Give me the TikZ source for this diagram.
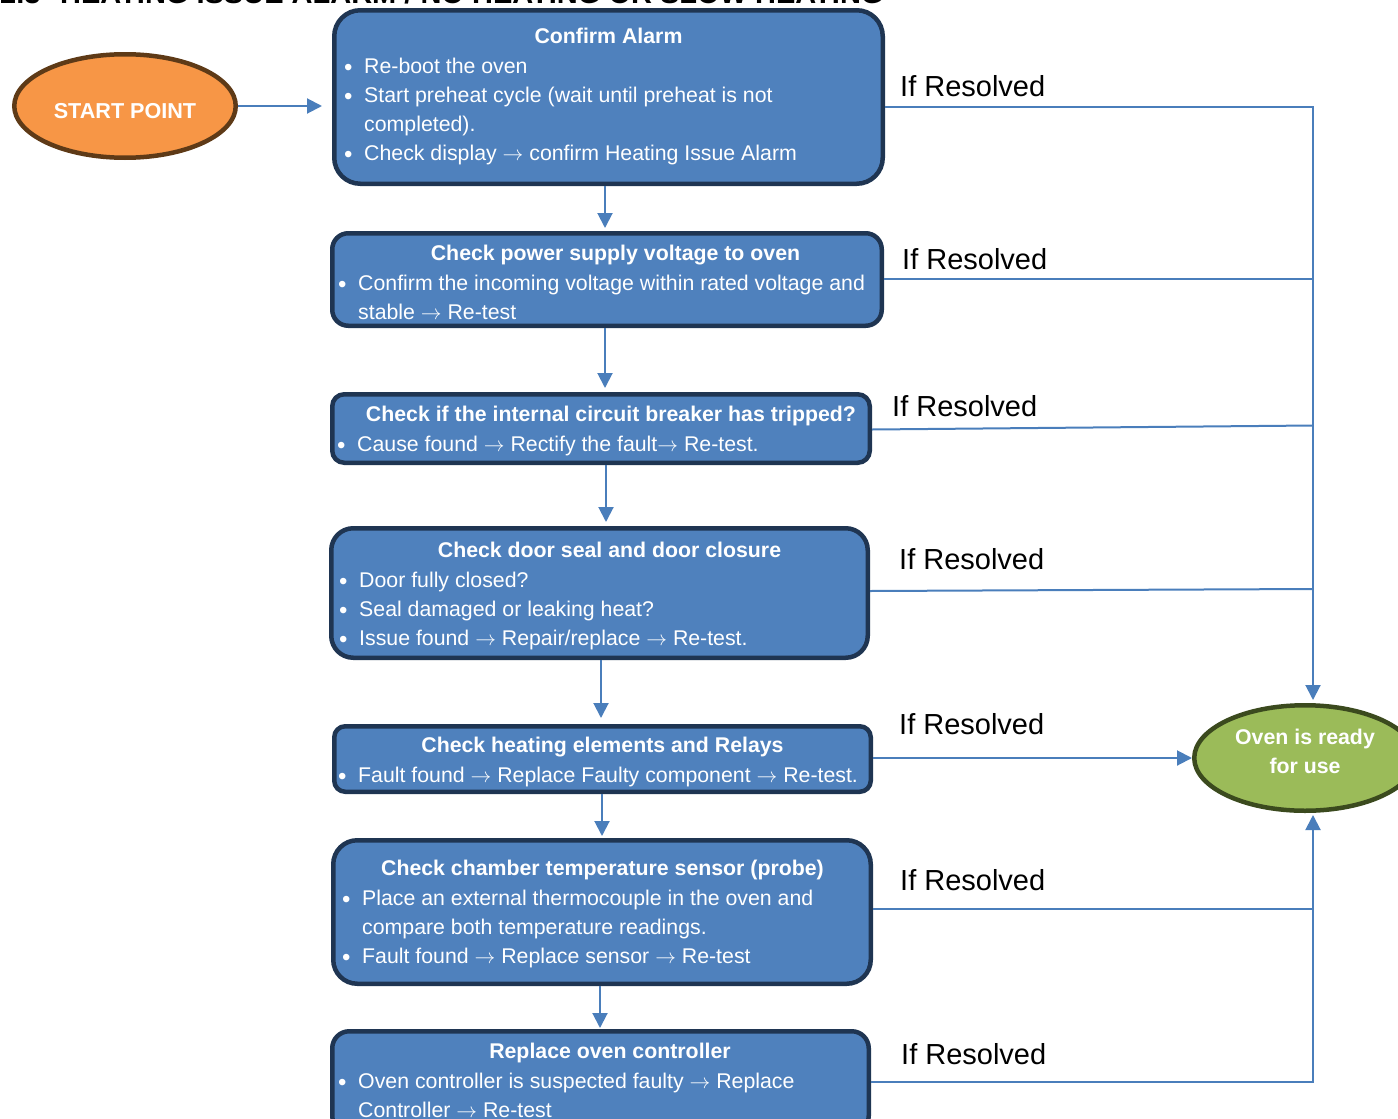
\documentclass[tikz,border=0pt]{standalone}
\usepackage{fontspec}
\setmainfont{Liberation Sans}
\usetikzlibrary{arrows.meta,shapes.geometric,calc}
\definecolor{boxfill}{HTML}{4F81BD}
\definecolor{boxline}{HTML}{1F3552}
\definecolor{arrcol}{HTML}{4A7EBB}
\definecolor{startfill}{HTML}{F79646}
\definecolor{startline}{HTML}{5E3A17}
\definecolor{readyfill}{HTML}{9BBB59}
\definecolor{readyline}{HTML}{3B4A1E}
\newcommand\myb{\makebox[20pt][l]{\raisebox{-2pt}{\fontsize{24}{29}\selectfont •}}}
\newcommand\myi{\hspace*{20pt}}
\newcommand\myarr{$\rightarrow$}
\begin{document}
\begin{tikzpicture}[x=1pt,y=-1pt,
  stepbox/.style={draw=boxline, line width=4.5pt, fill=boxfill, anchor=north west, inner sep=0pt},
  ttl/.style={anchor=base, text=white, font=\fontsize{21.3}{24}\selectfont\bfseries, inner sep=0pt},
  body/.style={anchor=base west, text=white, font=\fontsize{21.3}{29}\selectfont, inner sep=0pt},
  lbl/.style={anchor=base west, font=\fontsize{29}{34}\selectfont, inner sep=0pt},
  conn/.style={draw=arrcol, line width=2pt},
  arr/.style={conn, -{Triangle[length=15pt,width=15pt]}},
  ovalw/.style={text=white, font=\fontsize{21.3}{29}\selectfont\bfseries, inner sep=0pt, align=center},
]
\useasboundingbox (0,0) rectangle (1398,1119);

% clipped heading
\node[anchor=base west, font=\fontsize{29}{34}\selectfont\bfseries, inner sep=0pt] (hnum) at (0,3.5) {2.3};
\node[anchor=base west, font=\fontsize{29}{34}\selectfont\bfseries, inner sep=0pt] (head) at (60,3.5) {HEATING ISSUE ALARM / NO HEATING OR SLOW HEATING};

% boxes
\node[stepbox, rounded corners=26pt, minimum width=548.5pt, minimum height=173.5pt] (b1) at (332,8) {};
\node[stepbox, rounded corners=16pt, minimum width=549.5pt, minimum height=92.5pt] (b2) at (330,231) {};
\node[stepbox, rounded corners=12pt, minimum width=537.5pt, minimum height=68.5pt] (b3) at (330,392) {};
\node[stepbox, rounded corners=22pt, minimum width=536.5pt, minimum height=129.5pt] (b4) at (329,526) {};
\node[stepbox, rounded corners=11pt, minimum width=536.5pt, minimum height=65.5pt] (b5) at (332,724) {};
\node[stepbox, rounded corners=24pt, minimum width=537.5pt, minimum height=143.5pt] (b6) at (331,838) {};
\node[stepbox, rounded corners=17pt, minimum width=536.5pt, minimum height=101.5pt] (b7) at (330,1029) {};

% ovals
\node[ellipse, draw=startline, line width=4.5pt, fill=startfill, minimum width=221.5pt, minimum height=103.5pt] (start) at (125,106) {};
\node[ovalw, font=\fontsize{21.6}{29}\selectfont\bfseries] (startt) at (125,111) {START POINT};
\node[ellipse, draw=readyline, line width=4.5pt, fill=readyfill, minimum width=221.5pt, minimum height=105.5pt] (rdy) at (1305,758) {};
\node[ovalw] (rdyt) at (1305,751.5) {Oven is ready\\for use};

% titles
\node[ttl] (b1h) at (608.5,43) {Confirm Alarm};
\node[ttl] (b2h) at (615.5,260) {Check power supply voltage to oven};
\node[ttl] (b3h) at (611,421) {Check if the internal circuit breaker has tripped?};
\node[ttl] (b4h) at (609.5,557) {Check door seal and door closure};
\node[ttl] (b5h) at (602.5,752) {Check heating elements and Relays};
\node[ttl] (b6h) at (602.5,875) {Check chamber temperature sensor (probe)};
\node[ttl] (b7h) at (610,1058) {Replace oven controller};

% bodies
\node[body] (b1x) at (344,73) {\begin{tabular}[t]{@{}l@{}}\myb Re-boot the oven\\ \myb Start preheat cycle (wait until preheat is not\\ \myi completed).\\ \myb Check display \myarr{} confirm Heating Issue Alarm\end{tabular}};
\node[body] (b2x) at (338,290) {\begin{tabular}[t]{@{}l@{}}\myb Confirm the incoming voltage within rated voltage and\\ \myi stable \myarr{} Re-test\end{tabular}};
\node[body] (b3x) at (337,451) {\begin{tabular}[t]{@{}l@{}}\myb Cause found \myarr{} Rectify the fault\myarr{} Re-test.\end{tabular}};
\node[body] (b4x) at (339,587) {\begin{tabular}[t]{@{}l@{}}\myb Door fully closed?\\ \myb Seal damaged or leaking heat?\\ \myb Issue found \myarr{} Repair/replace \myarr{} Re-test.\end{tabular}};
\node[body] (b5x) at (338,782) {\begin{tabular}[t]{@{}l@{}}\myb Fault found \myarr{} Replace Faulty component \myarr{} Re-test.\end{tabular}};
\node[body] (b6x) at (342,905) {\begin{tabular}[t]{@{}l@{}}\myb Place an external thermocouple in the oven and\\ \myi compare both temperature readings.\\ \myb Fault found \myarr{} Replace sensor \myarr{} Re-test\end{tabular}};
\node[body] (b7x) at (338,1088) {\begin{tabular}[t]{@{}l@{}}\myb Oven controller is suspected faulty \myarr{} Replace\\ \myi Controller \myarr{} Re-test\end{tabular}};

% If Resolved labels
\node[lbl] (l1) at (900,96) {If Resolved};
\node[lbl] (l2) at (902,269) {If Resolved};
\node[lbl] (l3) at (892,416) {If Resolved};
\node[lbl] (l4) at (899,569) {If Resolved};
\node[lbl] (l5) at (899,734) {If Resolved};
\node[lbl] (l6) at (900,890) {If Resolved};
\node[lbl] (l7) at (901,1064) {If Resolved};

% coordinates
\coordinate (bus) at (1313,0);
\coordinate (c12) at (605,0);
\coordinate (c23) at (605,0);
\coordinate (c34) at (606,0);
\coordinate (c45) at (601,0);
\coordinate (c56) at (602,0);
\coordinate (c67) at (600,0);

% start arrow
\draw[arr, shorten >=10pt] (start.east) -- (start.east -| b1.west);

% downward arrows
\draw[arr, shorten >=3pt] (b1.south -| c12) -- (b2.north -| c12);
\draw[arr, shorten >=4pt] (b2.south -| c23) -- (b3.north -| c23);
\draw[arr, shorten >=4pt] (b3.south -| c34) -- (b4.north -| c34);
\draw[arr, shorten >=6pt] (b4.south -| c45) -- (b5.north -| c45);
\draw[arr, shorten >=2pt] (b5.south -| c56) -- (b6.north -| c56);
\draw[arr, shorten >=1pt] (b6.south -| c67) -- (b7.north -| c67);

% right side links
\draw[arr, shorten >=3pt] ($(b1.east)+(0,10)$) -| ($(rdy.north)+(8,0)$);
\draw[conn] ($(b2.east)+(0,-1)$) -- ($(b2.east -| bus)+(0,-1)$);
\draw[conn] ($(b3.east)+(0,1)$) -- ($(b3.east -| bus)+(0,-3)$);
\draw[conn] ($(b4.east)+(0,-2)$) -- ($(b4.east -| bus)+(0,-4)$);
\draw[arr] ($(b5.east)+(0,-1)$) -- ($(b5.east -| rdy.west)+(0,-1)$);
\draw[conn] ($(b6.east)+(0,-3)$) -- ($(b6.east -| bus)+(0,-3)$);
\draw[arr, shorten >=2pt] (b7.east) -| ($(rdy.south)+(8,0)$);
\end{tikzpicture}
\end{document}
